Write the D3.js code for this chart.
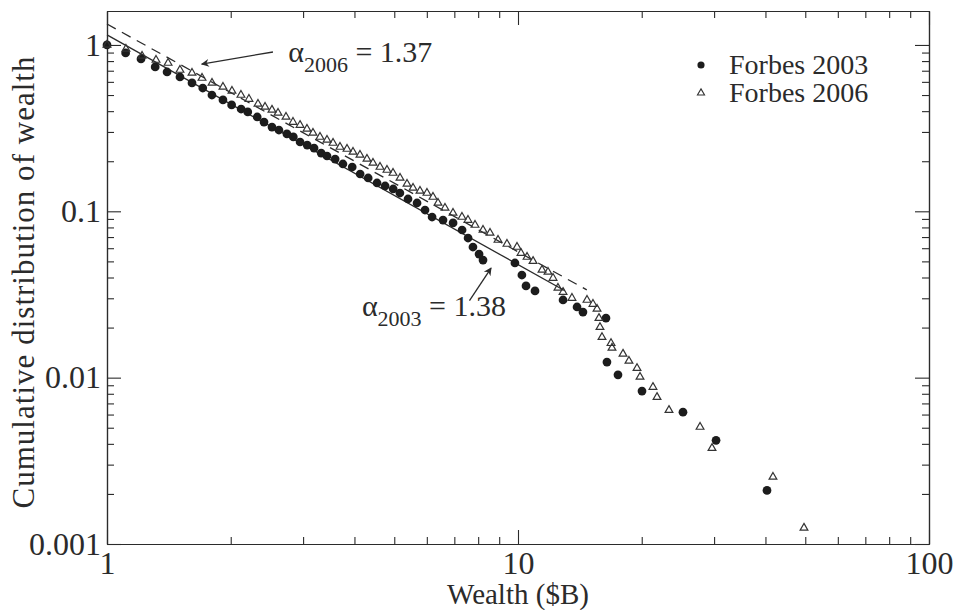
<!DOCTYPE html>
<html><head><meta charset="utf-8">
<script src="https://cdn.jsdelivr.net/npm/d3@7/dist/d3.min.js"></script>
<style>body{margin:0;background:#fff} svg text{font-family:"Liberation Serif","DejaVu Serif","Noto Serif","FreeSerif","Nimbus Roman","Times New Roman",serif;}</style>
</head><body><svg id="c" width="957" height="610"></svg>
<script>
// ---- data ----
const wealth2003 = [1.0,1.11,1.21,1.31,1.40,1.505,1.61,1.71,1.80,1.915,2.01,2.12,2.20,2.32,2.41,2.52,2.62,2.74,2.84,2.95,3.07,3.19,3.32,3.43,3.59,3.75,3.95,4.13,4.32,4.54,4.75,4.97,5.16,5.40,5.68,5.94,6.18,6.57,6.95,7.31,7.56,7.77,8.04,8.22,9.83,10.22,10.46,11.0,12.87,13.92,14.39,16.37,16.46,17.51,20.03,25.2,30.33,40.35];
const cdf2003 = [1.0,0.895,0.824,0.738,0.688,0.642,0.591,0.551,0.5,0.467,0.436,0.412,0.396,0.369,0.344,0.321,0.308,0.292,0.28,0.261,0.25,0.24,0.224,0.215,0.206,0.1925,0.1846,0.1676,0.1586,0.148,0.142,0.1362,0.1288,0.1186,0.1122,0.1018,0.0924,0.0886,0.0851,0.0772,0.0691,0.061,0.0553,0.0509,0.0489,0.0414,0.0356,0.0332,0.0293,0.0266,0.0248,0.0228,0.0124,0.0104,0.0083,0.0062,0.0042,0.0021];
const wealth2006 = [1.0,1.112,1.217,1.316,1.408,1.505,1.61,1.703,1.801,1.915,2.014,2.118,2.215,2.33,2.424,2.52,2.607,2.726,2.835,2.949,3.066,3.171,3.298,3.43,3.548,3.689,3.837,3.968,4.126,4.291,4.438,4.616,4.8,4.965,5.164,5.37,5.554,5.775,6.005,6.211,6.388,6.643,6.948,7.306,7.556,7.86,8.22,8.549,8.941,9.401,9.945,10.17,10.52,10.88,11.44,11.83,12.17,12.51,12.87,13.53,14.72,15.22,15.57,15.74,15.83,16.01,16.84,16.93,18.01,18.62,19.48,19.81,21.3,21.79,23.3,27.73,29.65,41.72,49.64];
const cdf2006 = [1.0,0.946,0.859,0.812,0.779,0.707,0.679,0.633,0.591,0.559,0.529,0.5,0.473,0.442,0.424,0.407,0.39,0.369,0.344,0.33,0.3126,0.2957,0.2797,0.2684,0.2574,0.2435,0.2369,0.2273,0.2182,0.2063,0.1952,0.1846,0.1771,0.1699,0.1586,0.146,0.1381,0.1325,0.1288,0.1219,0.1122,0.1047,0.0977,0.0924,0.0886,0.0827,0.0772,0.0741,0.0672,0.0636,0.061,0.0561,0.0531,0.0502,0.0444,0.0432,0.0397,0.0346,0.0327,0.0301,0.0293,0.0277,0.0259,0.0228,0.0201,0.0175,0.0161,0.0151,0.0139,0.0126,0.0114,0.0101,0.00878,0.00764,0.00638,0.00505,0.00377,0.00253,0.00125];
// power-law fits (end points)
const fitX2003 = [1, 13.0], fitY2003 = [1.149, 0.0333];
const fitX2006 = [1, 14.7], fitY2006 = [1.337, 0.0337];
// axes
const xMajor = [1, 10, 100], xMajorLabels = ["1", "10", "100"];
const yMajor = [0.001, 0.01, 0.1, 1], yMajorLabels = ["0.001", "0.01", "0.1", "1"];
const xMinor = [2,3,4,5,6,7,8,9,20,30,40,50,60,70,80,90];
const yMinor = [0.002,0.003,0.004,0.005,0.006,0.007,0.008,0.009,0.02,0.03,0.04,0.05,0.06,0.07,0.08,0.09,0.2,0.3,0.4,0.5,0.6,0.7,0.8,0.9];
const seriesNames = ["Forbes 2003", "Forbes 2006"];
const xTitle = "Wealth ($B)", yTitle = "Cumulative distribution of wealth";
const ann2006 = {main: "\u03B1", sub: "2006", tail: " = 1.37", tx: 2.76, ty: 0.79, from: [2.534, 0.907], to: [1.70, 0.768]};
const ann2003 = {main: "\u03B1", sub: "2003", tail: " = 1.38", tx: 4.17, ty: 0.0235, from: [7.62, 0.0290], to: [8.60, 0.0456]};

// ---- layout ----
const L = 107, R = 929, T = 11, B = 544;
const ink = "#2b2b2b";
const font = "Liberation Serif";
const svg = d3.select("#c").attr("font-family", font);
svg.append("rect").attr("width",957).attr("height",610).attr("fill","#fff");

const x = d3.scaleLog().domain([1,100]).range([L,R]);
const y = d3.scaleLog().domain([0.001,1.6]).range([B,T]);

function styleAxis(g){
  g.attr("font-family", font).attr("font-size", 32);
  g.select(".domain").attr("stroke", ink).attr("stroke-width",1.2);
  g.selectAll(".tick line").attr("stroke", ink).attr("stroke-width",1.1);
  g.selectAll("text").attr("fill", ink);
}
// major ticks with labels
svg.append("g").attr("transform",`translate(0,${B})`)
  .call(d3.axisBottom(x).tickValues(xMajor).tickFormat((d,i)=>xMajorLabels[i]).tickSize(-14).tickPadding(7).tickSizeOuter(0))
  .call(styleAxis);
svg.append("g").attr("transform",`translate(${L},0)`)
  .call(d3.axisLeft(y).tickValues(yMajor).tickFormat((d,i)=>yMajorLabels[i]).tickSize(-14).tickPadding(6).tickSizeOuter(0))
  .call(styleAxis);
svg.append("g").attr("transform",`translate(0,${T})`)
  .call(d3.axisTop(x).tickValues(xMajor).tickFormat("").tickSize(-14).tickSizeOuter(0)).call(styleAxis);
svg.append("g").attr("transform",`translate(${R},0)`)
  .call(d3.axisRight(y).tickValues(yMajor).tickFormat("").tickSize(-14).tickSizeOuter(0)).call(styleAxis);
// minor ticks
[[d3.axisBottom(x).tickValues(xMinor), `translate(0,${B})`],
 [d3.axisTop(x).tickValues(xMinor), `translate(0,${T})`],
 [d3.axisLeft(y).tickValues(yMinor), `translate(${L},0)`],
 [d3.axisRight(y).tickValues(yMinor), `translate(${R},0)`]].forEach(([ax,tr])=>{
  svg.append("g").attr("transform",tr).call(ax.tickFormat("").tickSize(-7).tickSizeOuter(0)).call(styleAxis);
});

// titles
svg.append("text").attr("x",(L+R)/2).attr("y",604).attr("text-anchor","middle")
  .attr("fill",ink).attr("font-size",29).text(xTitle);
svg.append("text").attr("transform",`translate(34,${(T+B)/2+5}) rotate(-90)`).attr("text-anchor","middle")
  .attr("fill",ink).attr("font-size",31).attr("textLength",452).attr("lengthAdjust","spacing").text(yTitle);

// fit lines
const line = d3.line().x(d=>x(d[0])).y(d=>y(d[1]));
svg.append("path").datum(fitX2003.map((v,i)=>[v,fitY2003[i]])).attr("d",line)
  .attr("fill","none").attr("stroke",ink).attr("stroke-width",1.3);
svg.append("path").datum(fitX2006.map((v,i)=>[v,fitY2006[i]])).attr("d",line)
  .attr("fill","none").attr("stroke",ink).attr("stroke-width",1.3).attr("stroke-dasharray","10,7");

// markers
const circ = d3.symbol().type(d3.symbolCircle).size(60);
const tri = d3.symbol().type(d3.symbolTriangle).size(26);
svg.append("g").selectAll("path").data(wealth2003.map((v,i)=>[v,cdf2003[i]])).join("path")
  .attr("d",circ).attr("transform",d=>`translate(${x(d[0])},${y(d[1])})`).attr("fill","#1c1c1c");
svg.append("g").selectAll("path").data(wealth2006.map((v,i)=>[v,cdf2006[i]])).join("path")
  .attr("d",tri).attr("transform",d=>`translate(${x(d[0])},${y(d[1])})`)
  .attr("fill","none").attr("stroke","#333").attr("stroke-width",1.2);

// annotations
svg.append("defs").append("marker").attr("id","ah").attr("viewBox","0 0 10 10").attr("refX",9).attr("refY",5)
  .attr("markerWidth",14).attr("markerHeight",8).attr("markerUnits","userSpaceOnUse").attr("orient","auto")
  .append("path").attr("d","M0,0 L10,5 L0,10 L3,5 Z").attr("fill",ink);
[ann2006, ann2003].forEach(a=>{
  svg.append("line").attr("x1",x(a.from[0])).attr("y1",y(a.from[1])).attr("x2",x(a.to[0])).attr("y2",y(a.to[1]))
    .attr("stroke",ink).attr("stroke-width",1.3).attr("marker-end","url(#ah)");
  const t = svg.append("text").attr("x",x(a.tx)).attr("y",y(a.ty)).attr("fill",ink).attr("font-size",30);
  t.append("tspan").text(a.main);
  t.append("tspan").attr("dy",10).attr("font-size",22).text(a.sub);
  t.append("tspan").attr("dy",-10).text(a.tail);
});

// legend
const lg = svg.append("g");
seriesNames.forEach((n,i)=>{
  const yy = 65 + i*28;
  lg.append("path").attr("d", i===0?d3.symbol().type(d3.symbolCircle).size(40)():d3.symbol().type(d3.symbolTriangle).size(22)())
    .attr("transform",`translate(701,${yy})`)
    .attr("fill", i===0?"#1c1c1c":"none").attr("stroke", i===0?"none":"#333").attr("stroke-width",1.1);
  lg.append("text").attr("x",729).attr("y",yy+9).attr("fill",ink).attr("font-size",28).text(n);
});
</script></body></html>
